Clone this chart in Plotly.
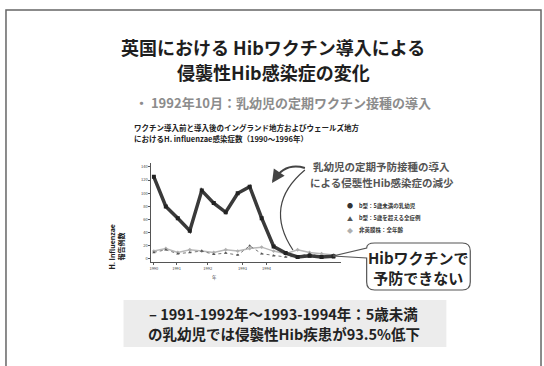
import plotly.graph_objects as go

W, H = 544, 366

# ---- data (semi-annual periods, index 0 = 1990) ----
periods = list(range(16))
hib_under5 = [125, 80, 62, 43, 104, 85, 71, 100, 110, 62, 19, 9, 3, 5, 3, 4]
hib_over5 = [10, 14, 8, 10, 12, 7, 9, 6, 20, 8, 5, 3, 4, 8, 3, 2]
non_capsular = [12, 16, 10, 14, 12, 10, 14, 12, 16, 18, 12, 8, 14, 10, 8, 6]
tick_pos = [0, 1.9, 4.5, 7.4, 9.4]
tick_text = ["1990", "1991", "1992", "1993", "1994"]
y_ticks = [0, 20, 40, 60, 80, 100, 120, 140]
legend_names = ["b型：5歳未満の乳幼児", "b型：5歳を超える全症例", "非莢膜株：全年齢"]

FONT = "Noto Sans CJK JP"

def px(x):
    return x / W

def py(y):
    return 1 - y / H

fig = go.Figure()
fig.add_trace(go.Scatter(x=periods, y=non_capsular, mode="lines+markers",
                         line=dict(color="#b8b8b8", width=1.5),
                         marker=dict(symbol="diamond", size=3, color="#b0b0b0"),
                         showlegend=False))
fig.add_trace(go.Scatter(x=periods, y=hib_over5, mode="lines+markers",
                         line=dict(color="#777", width=1, dash="dot"),
                         marker=dict(symbol="triangle-up", size=3, color="#555"),
                         showlegend=False))
fig.add_trace(go.Scatter(x=periods, y=hib_under5, mode="lines+markers",
                         line=dict(color="#3a3a3a", width=3.5),
                         marker=dict(symbol="square", size=4, color="#222"),
                         showlegend=False))

fig.update_layout(
    width=W, height=H, margin=dict(l=0, r=0, t=0, b=0),
    paper_bgcolor="white", plot_bgcolor="white", showlegend=False,
    font=dict(family=FONT, color="#222"),
    xaxis=dict(domain=[px(150), px(340)], range=[-0.2, 15.6],
               tickvals=tick_pos, ticktext=tick_text, tickfont=dict(size=4, color="#444"),
               showline=True, linecolor="#555", linewidth=1, showgrid=False, zeroline=False,
               ticks="outside", ticklen=2, tickcolor="#555"),
    yaxis=dict(domain=[py(262), py(163)], range=[-4.6, 146],
               tickvals=y_ticks, tickfont=dict(size=4, color="#444"),
               showline=True, linecolor="#555", linewidth=1, showgrid=False, zeroline=False,
               ticks="outside", ticklen=2, tickcolor="#555"),
)

shapes = []
# slide frame
shapes.append(dict(type="rect", xref="paper", yref="paper", x0=px(4), x1=px(541), y0=py(372), y1=py(10),
                   line=dict(color="#666", width=1.5)))
# bottom grey box
shapes.append(dict(type="rect", xref="paper", yref="paper", x0=px(122), x1=px(446), y0=py(347), y1=py(300),
                   line=dict(width=0), fillcolor="#ececec", layer="below"))
# arrow curve and arc
shapes.append(dict(type="path", xref="paper", yref="paper",
                   path=f"M {px(304)} {py(168)} Q {px(284)} {py(162)} {px(272)} {py(181)}",
                   line=dict(color="#444", width=2)))
shapes.append(dict(type="path", xref="paper", yref="paper",
                   path=f"M {px(304)} {py(170)} Q {px(262)} {py(205)} {px(292)} {py(250)}",
                   line=dict(color="#444", width=1.2)))
# callout box with tail
x0, x1, y0, y1, r = 366, 470, 243, 290, 8
path = (f"M {px(x0+r)} {py(y0)} L {px(x1-r)} {py(y0)} Q {px(x1)} {py(y0)} {px(x1)} {py(y0+r)} "
        f"L {px(x1)} {py(y1-r)} Q {px(x1)} {py(y1)} {px(x1-r)} {py(y1)} "
        f"L {px(x0+r)} {py(y1)} Q {px(x0)} {py(y1)} {px(x0)} {py(y1-r)} "
        f"L {px(x0)} {py(258)} L {px(332)} {py(256)} L {px(x0)} {py(248)} "
        f"Q {px(x0)} {py(y0)} {px(x0+r)} {py(y0)} Z")
shapes.append(dict(type="path", xref="paper", yref="paper", path=path,
                   line=dict(color="#555", width=1.2), fillcolor="white"))
fig.update_layout(shapes=shapes)

ann = []
def text(x, y, t, size, color="#222", bold=True, xanchor="center", **kw):
    ann.append(dict(x=px(x), y=py(y), xref="paper", yref="paper", text=(f"<b>{t}</b>" if bold else t),
                    showarrow=False, xanchor=xanchor, yanchor="middle",
                    font=dict(size=size, color=color, family=FONT), **kw))

text(272, 47, "英国における Hibワクチン導入による", 18, "#1e1e1e")
text(272, 72, "侵襲性Hib感染症の変化", 18, "#1e1e1e")
text(282, 103, "・ 1992年10月：乳幼児の定期ワクチン接種の導入", 13, "#8c8c8c")
text(130, 127, "ワクチン導入前と導入後のイングランド地方およびウェールズ地方", 7.5, "#222", xanchor="left")
text(130, 138, "におけるH. influenzae感染症数（1990～1996年）", 7.5, "#222", xanchor="left")
text(381, 167, "乳幼児の定期予防接種の導入", 10.5, "#555")
text(381, 182, "による侵襲性Hib感染症の減少", 10.5, "#555")
text(418, 267, "Hibワクチンで<br>予防できない", 15, "#222")
text(283, 313, "– 1991-1992年～1993-1994年：5歳未満", 14.5, "#222")
text(283, 333, "の乳幼児では侵襲性Hib疾患が93.5%低下", 14.5, "#222")
text(110, 247, "H. Influenzae", 7, "#222", textangle=-90)
text(119, 247, "報告例数", 7, "#222", textangle=-90)
text(213, 277, "年", 4.5, "#444", bold=False)
# manual legend
for i, (name, glyph, col) in enumerate(zip(legend_names, ["●", "▲", "◆"], ["#333", "#555", "#b0b0b0"])):
    yy = 206 + i * 12
    text(349, yy, glyph, 6, col, bold=False)
    text(356, yy, name, 5.5, "#333", xanchor="left")
ann.append(dict(x=px(271), y=py(183), xref="paper", yref="paper", ax=4, ay=-6,
                showarrow=True, arrowhead=2, arrowsize=1.3, arrowwidth=2, arrowcolor="#444", text=""))
fig.update_layout(annotations=ann)

fig.write_html("out.html")
